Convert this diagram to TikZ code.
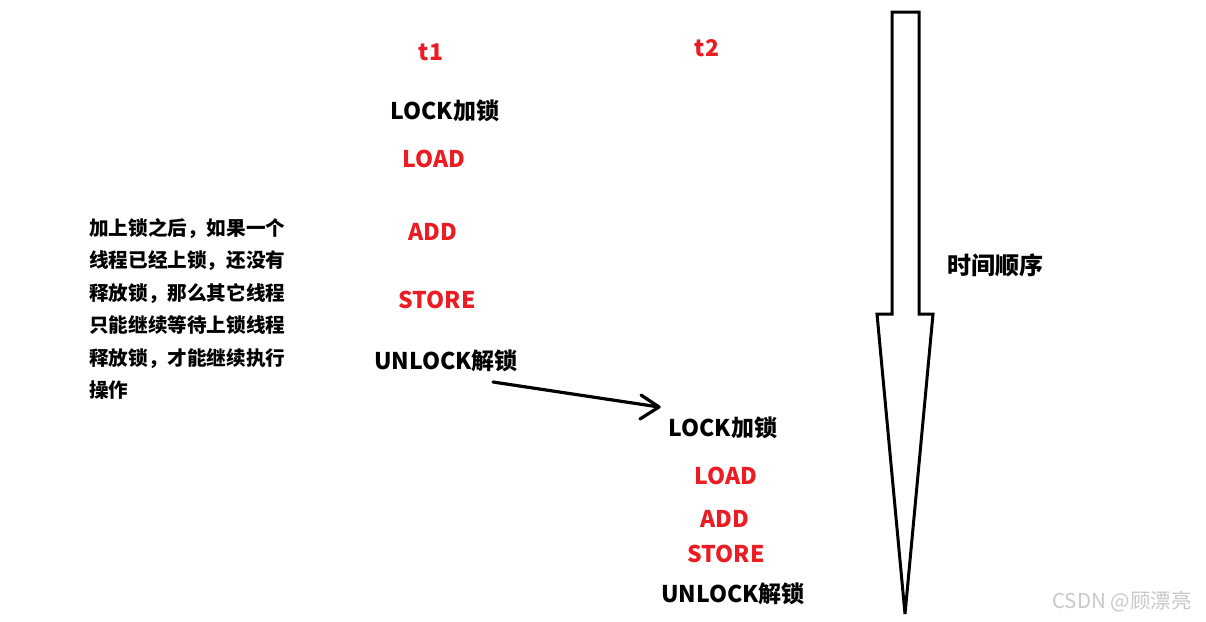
\documentclass[tikz,border=0pt]{standalone}
\usepackage{fontspec}
\setmainfont{Noto Sans CJK SC}
\definecolor{tred}{RGB}{236,28,36}
\definecolor{wm}{RGB}{200,200,200}
\tikzset{
  lbl/.style={font=\fontsize{23}{26}\selectfont\bfseries, inner sep=0pt, anchor=center},
  redl/.style={lbl, text=tred},
  blkl/.style={lbl, text=black},
  para/.style={font=\fontsize{19.6}{32.5}\selectfont\bfseries, inner sep=0pt, align=left, anchor=north west},
}
\begin{document}
\begin{tikzpicture}[x=1pt,y=-1pt]
\useasboundingbox[fill=white] (0,0) rectangle (1206,621);
% thread 1
\node[redl] (t1) at (431,52) {t1};
\node[blkl] (lock1) at (445,111) {LOCK加锁};
\node[redl] (load1) at (434,159) {LOAD};
\node[redl] (add1) at (433,232) {ADD};
\node[redl] (store1) at (437,300) {STORE};
\node[blkl] (unlock1) at (446,361) {UNLOCK解锁};
% thread 2
\node[redl] (t2) at (707,48) {t2};
\node[blkl] (lock2) at (723,428) {LOCK加锁};
\node[redl] (load2) at (726,476) {LOAD};
\node[redl] (add2) at (725,519) {ADD};
\node[redl] (store2) at (726,554) {STORE};
\node[blkl] (unlock2) at (733,594) {UNLOCK解锁};
% hand-drawn arrow
\coordinate (as) at (493,382);
\coordinate (ae) at (659,407);
\draw[line width=3.2pt, line cap=round] (as) -- (ae);
\draw[line width=3.2pt, line cap=round, line join=round] (641,395) -- (ae) -- (640,419);
% explanatory paragraph
\node[para] (note) at (89,218) {加上锁之后，如果一个\\线程已经上锁，还没有\\释放锁，那么其它线程\\只能继续等待上锁线程\\释放锁，才能继续执行\\操作};
% time arrow
\draw[line width=3pt, line join=miter] (892,12) -- (919,12) -- (919,314) -- (933,314) -- (905,614) -- (877,314) -- (892,314) -- cycle;
\node[font=\fontsize{24}{27}\selectfont\bfseries, inner sep=0pt] (time) at (995,265) {时间顺序};
% watermark
\node[font=\fontsize{20.5}{23}\selectfont, text=wm, inner sep=0pt] (wmk) at (1122,602) {CSDN @顾漂亮};
\end{tikzpicture}
\end{document}
